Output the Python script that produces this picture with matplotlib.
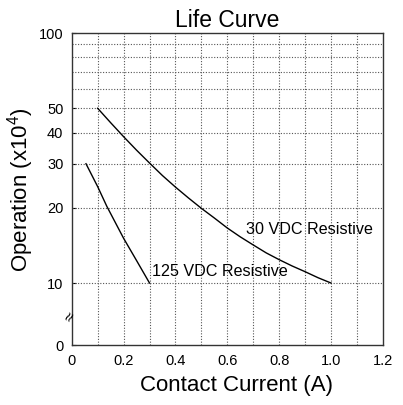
import matplotlib
matplotlib.use('Agg')
import matplotlib.pyplot as plt
from matplotlib.ticker import FixedLocator, NullFormatter

plt.rcParams['font.family'] = ['Liberation Sans', 'DejaVu Sans']
plt.rcParams['mathtext.fontset'] = 'custom'
plt.rcParams['mathtext.rm'] = 'Liberation Sans'

# 30 VDC resistive curve
x_30 = [0.1, 0.15, 0.2, 0.25, 0.3, 0.35, 0.4, 0.45, 0.5, 0.55,
        0.6, 0.65, 0.7, 0.75, 0.8, 0.85, 0.9, 0.95, 1.0]
y_30 = [50, 43.8, 38.5, 34.0, 30.2, 26.9, 24.2, 21.9, 19.9, 18.2,
        16.6, 15.3, 14.2, 13.2, 12.4, 11.7, 11.1, 10.5, 10]

# 125 VDC resistive curve
x_125 = [0.055, 0.1, 0.135, 0.2, 0.25, 0.3]
y_125 = [30, 24.3, 20.3, 15.1, 12.3, 10]

y_bottom = 10 ** (1 - 62.3 / 250)  # axis break, shown as "0"
y_ticks = [y_bottom, 10, 20, 30, 40, 50, 100]
y_labels = ['0', '10', '20', '30', '40', '50', '100']
y_grid = [10, 20, 30, 40, 50, 60, 70, 80, 90]
x_ticks = [0, 0.2, 0.4, 0.6, 0.8, 1.0, 1.2]
x_labels = ['0', '0.2', '0.4', '0.6', '0.8', '1.0', '1.2']
x_grid = [0.1, 0.2, 0.3, 0.4, 0.5, 0.6, 0.7, 0.8, 0.9, 1.0, 1.1]

fig = plt.figure(figsize=(4.03, 4.05), dpi=100)
ax = fig.add_axes([0.178, 0.1474, 0.772, 0.771])

ax.set_yscale('log')
ax.set_xlim(0, 1.2)
ax.set_ylim(y_bottom, 100)

ax.plot(x_30, y_30, color='black', lw=1)
ax.plot(x_125, y_125, color='black', lw=1)

ax.text(0.673, 16.4, '30 VDC Resistive', fontsize=11.6, va='center', ha='left')
ax.text(0.309, 11.07, '125 VDC Resistive', fontsize=11.6, va='center', ha='left')

ax.xaxis.remove_overlapping_locs = False
ax.yaxis.remove_overlapping_locs = False
ax.yaxis.set_major_locator(FixedLocator(y_ticks))
ax.set_yticklabels(y_labels)
ax.yaxis.set_minor_locator(FixedLocator(y_grid))
ax.yaxis.set_minor_formatter(NullFormatter())
ax.xaxis.set_major_locator(FixedLocator(x_ticks))
ax.set_xticklabels(x_labels)
ax.xaxis.set_minor_locator(FixedLocator(x_grid))

ax.grid(False, which='major')
ax.grid(True, which='minor', color='#555555', linestyle=(0, (1, 1.5)), lw=0.8)
ax.tick_params(axis='y', which='major', direction='in', length=3, labelsize=10.5, pad=6)
ax.tick_params(axis='x', which='major', length=0, labelsize=10.5, pad=6)
ax.tick_params(which='minor', length=0)

for s in ax.spines.values():
    s.set_color('#333333')
    s.set_linewidth(1)

# axis break mark
ax.text(-0.006, 7.3, '\u2248', fontsize=12, ha='center', va='center', rotation=60,
        clip_on=False)

ax.set_title('Life Curve', fontsize=16.5, pad=4)
ax.set_xlabel('Contact Current (A)', fontsize=16)
ax.xaxis.set_label_coords(0.53, -0.095)
ax.set_ylabel('Operation (x10$^{\\mathregular{4}}$)', fontsize=16)
ax.yaxis.set_label_coords(-0.115, 0.5)

fig.savefig('out.png', dpi=100)
